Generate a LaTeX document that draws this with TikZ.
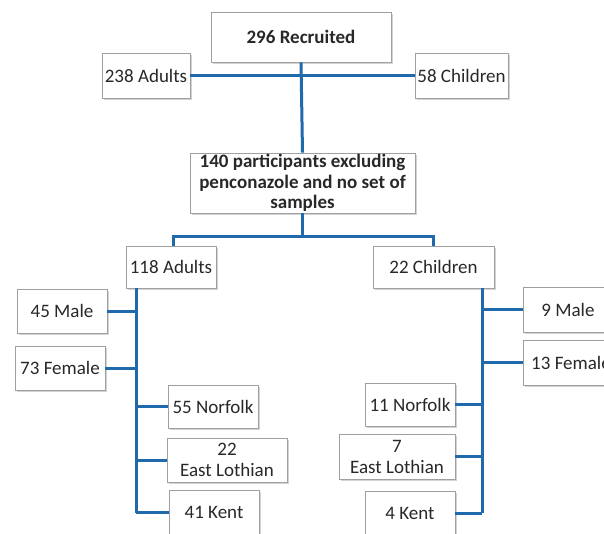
\documentclass[tikz,border=0pt]{standalone}
\usepackage{fontspec}
\setmainfont{Carlito}
\usetikzlibrary{shadows}
\definecolor{conncol}{RGB}{31,105,172}
\definecolor{boxline}{RGB}{160,160,160}
\definecolor{txt}{RGB}{40,40,40}
\tikzset{
  box/.style={draw=boxline, line width=0.8pt, fill=white, text=txt, align=center,
    font=\fontsize{19}{21}\selectfont, inner sep=1pt,
    drop shadow={shadow xshift=1.5pt, shadow yshift=-1.5pt, opacity=0.35, fill=gray}},
  boldbox/.style={box, font=\fontsize{19}{20.5}\selectfont\bfseries},
  conn/.style={draw=conncol, line width=3pt}
}
\begin{document}
\begin{tikzpicture}[x=1pt,y=-1pt]
\useasboundingbox (0,0) rectangle (604,533);
\clip (0,0) rectangle (604,533);
\coordinate (ltb) at (136,513);
\coordinate (rtb) at (482,513);
\coordinate (busl) at (173,236);
\coordinate (busr) at (433,236);
% nodes
\node[boldbox, minimum width=180pt, minimum height=50pt] (rec) at (301,37) {296 Recruited};
\node[box, minimum width=88pt, minimum height=45pt] (ad238) at (146,75.5) {238 Adults};
\node[box, minimum width=93pt, minimum height=45pt] (ch58) at (461.5,75.5) {58 Children};
\node[boldbox, minimum width=225pt, minimum height=60pt] (p140) at (302.5,183) {140 participants excluding\\penconazole and no set of\\samples};
\node[box, minimum width=90pt, minimum height=42pt] (ad118) at (171,267) {118 Adults};
\node[box, minimum width=121pt, minimum height=42pt] (ch22) at (433.5,267) {22 Children};
\node[box, minimum width=90pt, minimum height=44pt] (m45) at (62,311) {45 Male};
\node[box, minimum width=90pt, minimum height=44pt] (f73) at (60,368) {73 Female};
\node[box, minimum width=90pt, minimum height=43pt] (n55) at (213,406.5) {55 Norfolk};
\node[box, minimum width=120pt, minimum height=44pt] (el22) at (227,460) {22\\East Lothian};
\node[box, minimum width=90pt, minimum height=44pt] (k41) at (214,512) {41 Kent};
\node[box, minimum width=90pt, minimum height=45pt] (m9) at (568,309.5) {9 Male};
\node[box, minimum width=95pt, minimum height=45pt] (f13) at (571,362.5) {13 Female};
\node[box, minimum width=90pt, minimum height=43pt] (n11) at (410,404.5) {11 Norfolk};
\node[box, minimum width=116pt, minimum height=45pt] (el7) at (397,456.5) {7\\East Lothian};
\node[box, minimum width=90pt, minimum height=44pt] (k4) at (410,513) {4 Kent};
% connectors
\draw[conn] (ad238.east) -- (ch58.west);
\draw[conn] (rec.south) -- (p140.north);
\draw[conn] (p140.south) -- (p140.south |- busl);
\draw[conn] (busl |- ad118.north) -- (busl) -- (busr) -- (busr |- ch22.north);
\draw[conn] (ad118.south -| ltb) -- (ltb);
\draw[conn] (m45.east) -- (m45.east -| ltb);
\draw[conn] (f73.east) -- (f73.east -| ltb);
\draw[conn] (n55.west) -- (n55.west -| ltb);
\draw[conn] (el22.west) -- (el22.west -| ltb);
\draw[conn] (k41.west) -- (k41.west -| ltb);
\draw[conn] (ch22.south -| rtb) -- (rtb);
\draw[conn] (m9.west) -- (m9.west -| rtb);
\draw[conn] (f13.west) -- (f13.west -| rtb);
\draw[conn] (n11.east) -- (n11.east -| rtb);
\draw[conn] (el7.east) -- (el7.east -| rtb);
\draw[conn] (k4.east) -- (k4.east -| rtb);
\end{tikzpicture}
\end{document}
